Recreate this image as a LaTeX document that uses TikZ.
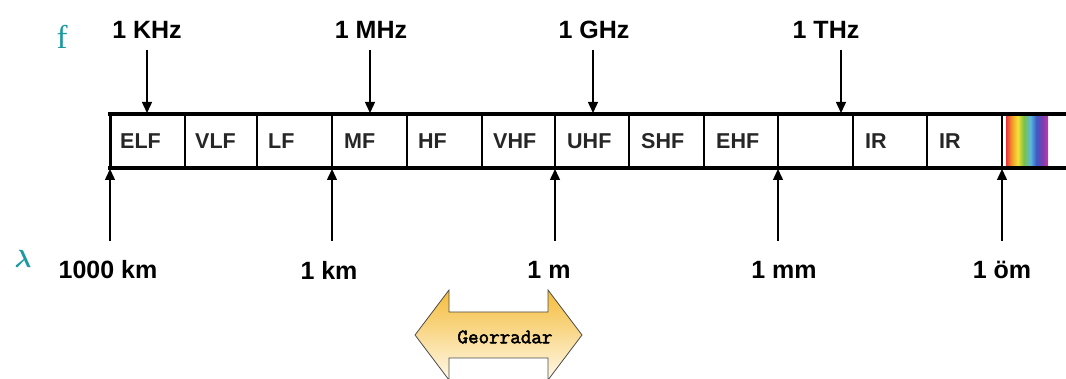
\documentclass[tikz,border=0pt]{standalone}
\usepackage{amsmath}
\usepackage{fontspec}
\setmainfont{Liberation Sans}
\newfontfamily\serifface{Liberation Serif}
\newfontfamily\geofont[FakeBold=2.5]{Latin Modern Mono}
\usetikzlibrary{arrows.meta}
\definecolor{tealc}{HTML}{1A9AA0}
\definecolor{goldc}{HTML}{F4BC3A}
\definecolor{creamc}{HTML}{FFF9EA}
\definecolor{rbred}{HTML}{E8323C}
\definecolor{rborange}{HTML}{F39A2A}
\definecolor{rbyellow}{HTML}{F2E23A}
\definecolor{rbgreen}{HTML}{7CC242}
\definecolor{rbcyan}{HTML}{5BB8E0}
\definecolor{rbblue}{HTML}{3C5BC4}
\definecolor{rbviolet}{HTML}{7A3DB0}
\definecolor{rbmag}{HTML}{C03AA8}
\pgfdeclarehorizontalshading{rainbowsh}{100bp}{color(0bp)=(rbred); color(25bp)=(rbred); color(32bp)=(rborange); color(39bp)=(rbyellow); color(46bp)=(rbgreen); color(54bp)=(rbcyan); color(61bp)=(rbblue); color(68bp)=(rbviolet); color(75bp)=(rbmag); color(100bp)=(rbmag)}
\begin{document}
\begin{tikzpicture}[x=1pt,y=-1pt,
  toplbl/.style={font=\fontsize{25}{27}\selectfont\bfseries, inner sep=0pt},
  botlbl/.style={font=\fontsize{25}{27}\selectfont\bfseries, inner sep=0pt},
  bandlbl/.style={font=\fontsize{21.5}{23}\selectfont\bfseries, inner sep=0pt, anchor=west, text=black!85},
  axisline/.style={line width=4pt},
  divider/.style={line width=1.6pt},
  marker/.style={line width=1.4pt, -{Triangle[width=10pt,length=11pt]}},
  greek/.style={text=tealc, inner sep=0pt}
]
\useasboundingbox (0,0) rectangle (1066,379);

% rainbow
\shade[shading=rainbowsh] (1006,116) rectangle (1048,166);

% band frame
\draw[axisline] (108,114) -- (1066,114);
\draw[axisline] (108,168) -- (1066,168);
\draw[line width=3pt] (110,113) -- (110,169);
\foreach \x in {185,257,332,407,482,555,629,704,778,853,927,1002}
  \draw[divider] (\x,114) -- (\x,168);

% band labels
\node[bandlbl] (elf) at (120,141) {ELF};
\node[bandlbl] (vlf) at (195,141) {VLF};
\node[bandlbl] (lf)  at (268,141) {LF};
\node[bandlbl] (mf)  at (344,141) {MF};
\node[bandlbl] (hf)  at (418,141) {HF};
\node[bandlbl] (vhf) at (493,141) {VHF};
\node[bandlbl] (uhf) at (567,141) {UHF};
\node[bandlbl] (shf) at (641,141) {SHF};
\node[bandlbl] (ehf) at (716,141) {EHF};
\node[bandlbl] (ir1) at (865,141) {IR};
\node[bandlbl] (ir2) at (939,141) {IR};

% axis symbols
\node[greek, font=\serifface\fontsize{33}{35}\selectfont] (fsym) at (62,37) {f};
\node[greek, font=\fontsize{34}{36}\selectfont] (lsym) at (23,259) {$\boldsymbol{\lambda}$};

% frequency labels and arrows
\node[toplbl] (khz) at (147,30) {1 KHz};
\node[toplbl] (mhz) at (371,30) {1 MHz};
\node[toplbl] (ghz) at (594,30) {1 GHz};
\node[toplbl] (thz) at (826,30) {1 THz};
\coordinate (khzA0) at (147,50); \coordinate (khzA1) at (147,113);
\coordinate (mhzA0) at (370,50); \coordinate (mhzA1) at (370,113);
\coordinate (ghzA0) at (593,50); \coordinate (ghzA1) at (593,113);
\coordinate (thzA0) at (841,50); \coordinate (thzA1) at (841,113);
\draw[marker] (khzA0) -- (khzA1);
\draw[marker] (mhzA0) -- (mhzA1);
\draw[marker] (ghzA0) -- (ghzA1);
\draw[marker] (thzA0) -- (thzA1);

% wavelength labels and arrows
\node[botlbl] (km1000) at (108,270) {1000 km};
\node[botlbl] (km1)    at (329,270) {1 km};
\node[botlbl] (m1)     at (549,270) {1 m};
\node[botlbl] (mm1)    at (784,270) {1 mm};
\node[botlbl] (um1)    at (1002,270) {1 öm};
\foreach \n/\x in {a/110,b/332,c/555,d/778,e/1002}{
  \coordinate (w\n0) at (\x,241);
  \coordinate (w\n1) at (\x,169);
  \draw[marker] (w\n0) -- (w\n1);
}

% Georradar double arrow
\draw[draw=black!70, line width=0.8pt, top color=goldc, bottom color=creamc]
  (415,335) -- (449,290) -- (449,312) -- (548,312) -- (548,290) -- (582,335)
  -- (548,380) -- (548,358) -- (449,358) -- (449,380) -- cycle;
\node[font=\geofont\fontsize{20.5}{22}\selectfont, inner sep=0pt] (geo) at (505,337) {Georradar};
\end{tikzpicture}
\end{document}
